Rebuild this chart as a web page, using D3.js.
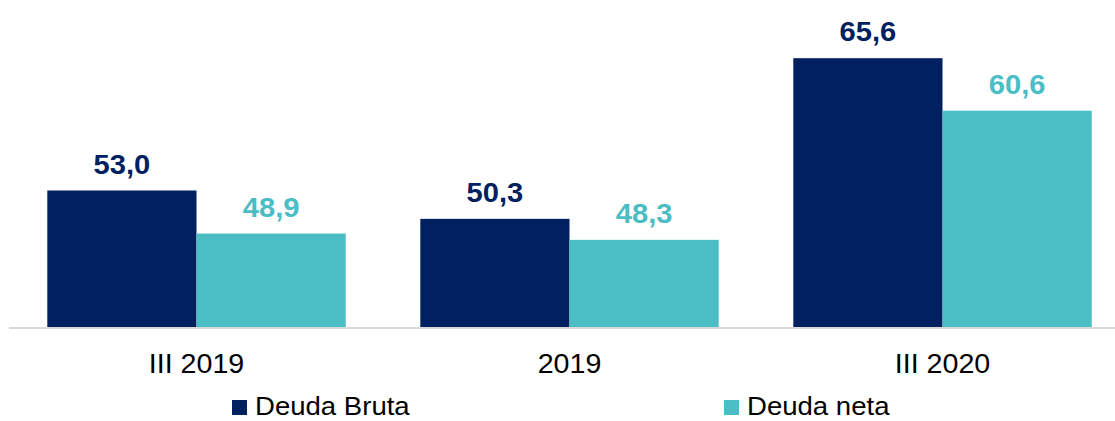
<!DOCTYPE html>
<html>
<head>
<meta charset="utf-8">
<script src="https://cdn.jsdelivr.net/npm/d3@7"></script>
<style>
  body { margin: 0; background: #fff; }
  svg { display: block; font-family: "Liberation Sans", Arial, sans-serif; }
</style>
</head>
<body>
<div id="chart"></div>
<script>
const categories = ["III 2019", "2019", "III 2020"];
const seriesNames = ["Deuda Bruta", "Deuda neta"];
const deudaBruta = [53.0, 50.3, 65.6];
const deudaNeta = [48.9, 48.3, 60.6];
const seriesColors = ["#002060", "#4BBDC5"];

const width = 1115, height = 421;
const baseY = 327;
const stretch = 1.06; // el original tiene el texto algo estirado en horizontal

const svg = d3.select("#chart").append("svg")
  .attr("width", width)
  .attr("height", height);

// x: grupos por categoría
const x = d3.scaleBand()
  .domain(categories)
  .range([10, 1129])
  .paddingInner(0.2)
  .paddingOuter(0.1);

const xInner = d3.scaleBand()
  .domain(seriesNames)
  .range([0, x.bandwidth()]);

const y = d3.scaleLinear()
  .domain([40, 70])
  .range([baseY, 12]);

const fmt = (v) => d3.format(".1f")(v).replace(".", ",");

const data = categories.map((c, i) => ({
  cat: c,
  values: [
    { name: seriesNames[0], value: deudaBruta[i], color: seriesColors[0] },
    { name: seriesNames[1], value: deudaNeta[i], color: seriesColors[1] },
  ],
}));

const groups = svg.selectAll("g.grp")
  .data(data)
  .enter()
  .append("g")
  .attr("class", "grp")
  .attr("transform", (d) => `translate(${x(d.cat)},0)`);

groups.selectAll("rect")
  .data((d) => d.values)
  .enter()
  .append("rect")
  .attr("x", (d) => xInner(d.name))
  .attr("y", (d) => y(d.value))
  .attr("width", xInner.bandwidth())
  .attr("height", (d) => baseY - y(d.value))
  .attr("fill", (d) => d.color);

// etiquetas de valor
groups.selectAll("text.val")
  .data((d) => d.values)
  .enter()
  .append("text")
  .attr("class", "val")
  .attr("transform", (d) =>
    `translate(${xInner(d.name) + xInner.bandwidth() / 2},${y(d.value) - 17}) scale(${stretch},1)`)
  .attr("text-anchor", "middle")
  .attr("fill", (d) => d.color)
  .style("font-size", "27.5px")
  .style("font-weight", "bold")
  .text((d) => fmt(d.value));

// línea base
svg.append("line")
  .attr("x1", 9)
  .attr("x2", width)
  .attr("y1", baseY + 1)
  .attr("y2", baseY + 1)
  .attr("stroke", "#d9d9d9")
  .attr("stroke-width", 2);

// etiquetas del eje
svg.selectAll("text.cat")
  .data(categories)
  .enter()
  .append("text")
  .attr("class", "cat")
  .attr("transform", (d) => `translate(${x(d) + x.bandwidth() / 2},372.5) scale(${stretch},1)`)
  .attr("text-anchor", "middle")
  .attr("fill", "#000")
  .style("font-size", "27px")
  .text((d) => d);

// leyenda
const legendX = [232, 724];
const legend = svg.selectAll("g.leg")
  .data(seriesNames)
  .enter()
  .append("g")
  .attr("class", "leg")
  .attr("transform", (d, i) => `translate(${legendX[i]},400)`);

legend.append("rect")
  .attr("width", 15)
  .attr("height", 15)
  .attr("fill", (d, i) => seriesColors[i]);

legend.append("text")
  .attr("transform", `translate(23,14.5) scale(${stretch},1)`)
  .attr("fill", "#000")
  .style("font-size", "26px")
  .text((d) => d);
</script>
</body>
</html>
